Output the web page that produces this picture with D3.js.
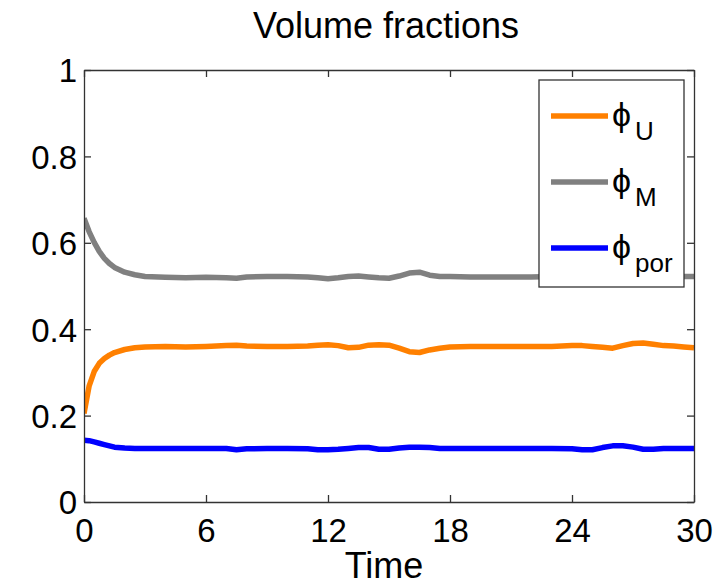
<!DOCTYPE html>
<html>
<head>
<meta charset="utf-8">
<script src="https://cdn.jsdelivr.net/npm/d3@7"></script>
<style>
  body { margin: 0; background: #fff; }
  svg { display: block; }
  text { font-family: "Liberation Sans", Arial, Helvetica, sans-serif; fill: #000; }
</style>
</head>
<body>
<svg id="chart" width="724" height="585"></svg>
<script>
// ---- data ----
const time = [0, 0.25, 0.5, 0.75, 1, 1.25, 1.5, 2, 2.5, 3, 4, 5, 6, 7, 7.5, 8, 9, 10, 11, 11.5,
  12, 12.5, 13, 13.5, 14, 14.5, 15, 15.5, 16, 16.5, 17, 17.5, 18, 19, 20, 21, 22, 23, 24, 24.5,
  25, 25.5, 26, 26.5, 27, 27.5, 28, 28.5, 29, 29.5, 30];

const phiU = [0.205, 0.268, 0.302, 0.321, 0.332, 0.340, 0.346, 0.353, 0.357, 0.359, 0.360, 0.359, 0.360, 0.362, 0.363, 0.361, 0.360, 0.360, 0.361, 0.363,
  0.364, 0.362, 0.357, 0.358, 0.363, 0.364, 0.363, 0.356, 0.348, 0.346, 0.352, 0.356, 0.359, 0.360, 0.360, 0.360, 0.360, 0.360, 0.362, 0.362,
  0.360, 0.358, 0.356, 0.362, 0.367, 0.368, 0.365, 0.362, 0.361, 0.359, 0.357];

const phiM = [0.657, 0.626, 0.601, 0.580, 0.564, 0.552, 0.543, 0.532, 0.526, 0.522, 0.520, 0.519, 0.520, 0.519, 0.518, 0.521, 0.522, 0.522, 0.521, 0.519,
  0.517, 0.519, 0.522, 0.523, 0.521, 0.519, 0.518, 0.523, 0.530, 0.532, 0.525, 0.522, 0.522, 0.521, 0.521, 0.521, 0.521, 0.522, 0.522, 0.522,
  0.522, 0.522, 0.522, 0.522, 0.522, 0.522, 0.522, 0.522, 0.522, 0.522, 0.522];

const phiPor = [0.143, 0.142, 0.139, 0.136, 0.133, 0.130, 0.127, 0.125, 0.124, 0.124, 0.124, 0.124, 0.124, 0.124, 0.121, 0.123, 0.124, 0.124, 0.123, 0.121,
  0.121, 0.122, 0.124, 0.126, 0.126, 0.122, 0.122, 0.125, 0.127, 0.127, 0.126, 0.124, 0.124, 0.124, 0.124, 0.124, 0.124, 0.124, 0.123, 0.121,
  0.121, 0.126, 0.130, 0.130, 0.127, 0.122, 0.122, 0.124, 0.124, 0.124, 0.124];

const xTicks = [0, 6, 12, 18, 24, 30];
const yTicks = [0, 0.2, 0.4, 0.6, 0.8, 1];
const yTickLabels = ["0", "0.2", "0.4", "0.6", "0.8", "1"];

const seriesNames = ["U", "M", "por"];
const seriesColors = ["#ff8000", "#808080", "#0000ff"];
const seriesValues = [phiU, phiM, phiPor];

const titleText = "Volume fractions";
const xLabelText = "Time";

// ---- layout ----
const L = 84, R = 694, T = 70, B = 502;
const svg = d3.select("#chart");
const x = d3.scaleLinear().domain([0, 30]).range([L, R]);
const y = d3.scaleLinear().domain([0, 1]).range([B, T]);

const axisColor = "#333";

svg.append("defs").append("clipPath").attr("id", "clip")
  .append("rect").attr("x", L).attr("y", T).attr("width", R - L).attr("height", B - T);

const line = d3.line().x((d, i) => x(time[i])).y(d => y(d));
const g = svg.append("g").attr("clip-path", "url(#clip)");
seriesValues.forEach((vals, k) => {
  g.append("path").datum(vals)
    .attr("d", line)
    .attr("fill", "none")
    .attr("stroke", seriesColors[k])
    .attr("stroke-width", 5.5)
    .attr("stroke-linejoin", "round")
    .attr("stroke-linecap", "butt");
});

const fontTick = 33;
const axBottom = d3.axisBottom(x).tickValues(xTicks).tickSizeInner(-7).tickSizeOuter(0).tickFormat(d3.format("d"));
const axTop = d3.axisTop(x).tickValues(xTicks).tickSizeInner(-7).tickSizeOuter(0).tickFormat("");
const axLeft = d3.axisLeft(y).tickValues(yTicks).tickSizeInner(-7).tickSizeOuter(0).tickFormat((d, i) => yTickLabels[i]);
const axRight = d3.axisRight(y).tickValues(yTicks).tickSizeInner(-7).tickSizeOuter(0).tickFormat("");

function styleAxis(sel) {
  sel.select(".domain").attr("stroke", axisColor).attr("stroke-width", 1.3);
  sel.selectAll(".tick line").attr("stroke", axisColor).attr("stroke-width", 1.3);
  sel.selectAll(".tick text").attr("font-family", "Liberation Sans, Arial, sans-serif")
    .attr("font-size", fontTick).attr("fill", "#000");
}

const gb = svg.append("g").attr("transform", `translate(0,${B})`).call(axBottom).call(styleAxis);
gb.selectAll(".tick text").attr("y", 40).attr("dy", 0);
svg.append("g").attr("transform", `translate(0,${T})`).call(axTop).call(styleAxis);
const gl = svg.append("g").attr("transform", `translate(${L},0)`).call(axLeft).call(styleAxis);
gl.selectAll(".tick text").attr("x", -7).attr("dy", "0.36em");
svg.append("g").attr("transform", `translate(${R},0)`).call(axRight).call(styleAxis);

svg.append("text").attr("x", 386).attr("y", 38).attr("text-anchor", "middle")
  .attr("font-size", 36).text(titleText);
svg.append("text").attr("x", 384).attr("y", 578).attr("text-anchor", "middle")
  .attr("font-size", 36).text(xLabelText);

// legend
const lg = svg.append("g");
lg.append("rect").attr("x", 539).attr("y", 80).attr("width", 145).attr("height", 207)
  .attr("fill", "#fff").attr("stroke", axisColor).attr("stroke-width", 1.3);
const legY = [116, 182, 248];
seriesNames.forEach((name, k) => {
  lg.append("line").attr("x1", 551).attr("x2", 608).attr("y1", legY[k]).attr("y2", legY[k])
    .attr("stroke", seriesColors[k]).attr("stroke-width", 5.5);
  lg.append("text").attr("x", 612).attr("y", legY[k] + 10)
    .attr("font-family", "DejaVu Sans, sans-serif").attr("font-size", 34).text("\u03D5");
  lg.append("text").attr("x", 635).attr("y", legY[k] + 24)
    .attr("font-size", 26).text(name);
});
</script>
</body>
</html>
